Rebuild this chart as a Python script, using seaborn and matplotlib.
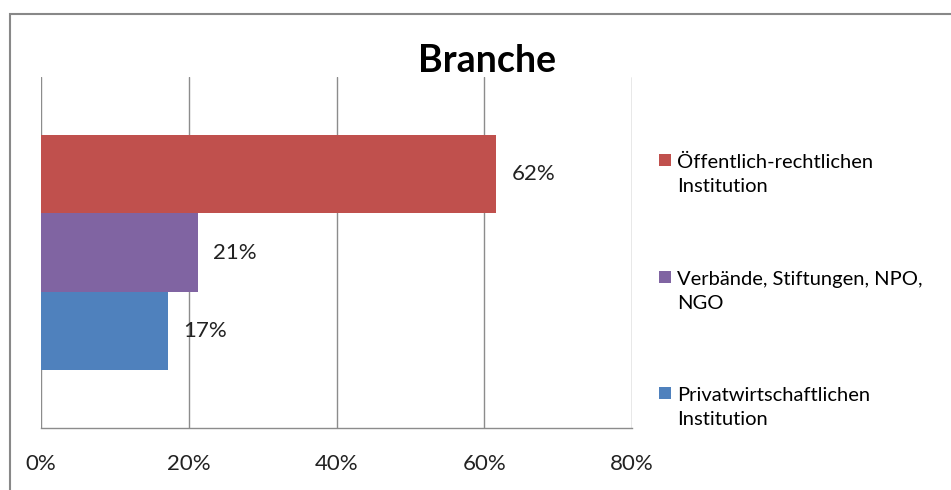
import textwrap
import matplotlib
matplotlib.use("Agg")
import matplotlib.pyplot as plt
from matplotlib.patches import Rectangle
import seaborn as sns
import pandas as pd

# ---- data ----
chart_title = "Branche"
categories = [
    "Öffentlich-rechtlichen Institution",
    "Verbände, Stiftungen, NPO, NGO",
    "Privatwirtschaftlichen Institution",
]
shares = [61.6, 21.2, 17.2]          # percent
colors = ["#C0504D", "#8064A2", "#4F81BD"]
x_ticks = [0, 20, 40, 60, 80]
x_tick_labels = ["0%", "20%", "40%", "60%", "80%"]

df = pd.DataFrame({"group": [chart_title] * len(categories),
                   "category": categories,
                   "share": shares})

sns.set_theme(style="white")
plt.rcParams["font.family"] = ["Lato", "DejaVu Sans"]

W, H = 951, 490
fig = plt.figure(figsize=(W / 100, H / 100), dpi=100)
ax = fig.add_axes([41 / W, 1 - 428 / H, (632 - 41) / W, (428 - 77) / H])

sns.barplot(data=df, x="share", y="group", hue="category", hue_order=categories,
            palette=colors, saturation=1, orient="h", width=0.667, dodge=True,
            linewidth=0, legend=False, ax=ax)

ax.set_xlim(0, 80)
ax.set_ylim(0.5, -0.5)
ax.set_xticks(x_ticks)
ax.set_xticklabels(x_tick_labels, fontsize=16, color="#222222")
ax.tick_params(axis="x", length=0, pad=19)
ax.set_yticks([])
ax.set_xlabel("")
ax.set_ylabel("")
ax.set_axisbelow(True)
ax.grid(axis="x", color="#8C8C8C", linewidth=1.0)
ax.grid(axis="y", visible=False)
for side in ["top", "right", "left"]:
    ax.spines[side].set_visible(False)
ax.spines["bottom"].set_color("#8C8C8C")
ax.spines["bottom"].set_linewidth(1.0)

for cont in ax.containers:
    ax.bar_label(cont, labels=[f"{v:.0f}%" for v in cont.datavalues],
                 padding=11, fontsize=16, color="#222222")

# title
fig.text(487 / W, 1 - 72 / H, chart_title, ha="center", va="baseline",
         fontsize=27, fontweight="bold", color="black")

# legend (built from categories / colors)
first_line_y = [160, 277, 393]
for cat, col, yy in zip(categories, colors, first_line_y):
    fig.add_artist(Rectangle((659 / W, 1 - (yy + 6) / H), 12 / W, 12 / H,
                             transform=fig.transFigure, facecolor=col,
                             edgecolor="none"))
    fig.text(677 / W, 1 - (yy + 14.5) / H, textwrap.fill(cat, width=26),
             ha="left", va="center", fontsize=14.5, linespacing=1.5,
             color="black")

# outer chart border (left and top visible)
fig.add_artist(Rectangle((10 / W, -0.2), 1.5, 1.2 - 14 / H,
                         transform=fig.transFigure, fill=False,
                         edgecolor="#888888", linewidth=1.5))

fig.savefig("out.png", dpi=100)
